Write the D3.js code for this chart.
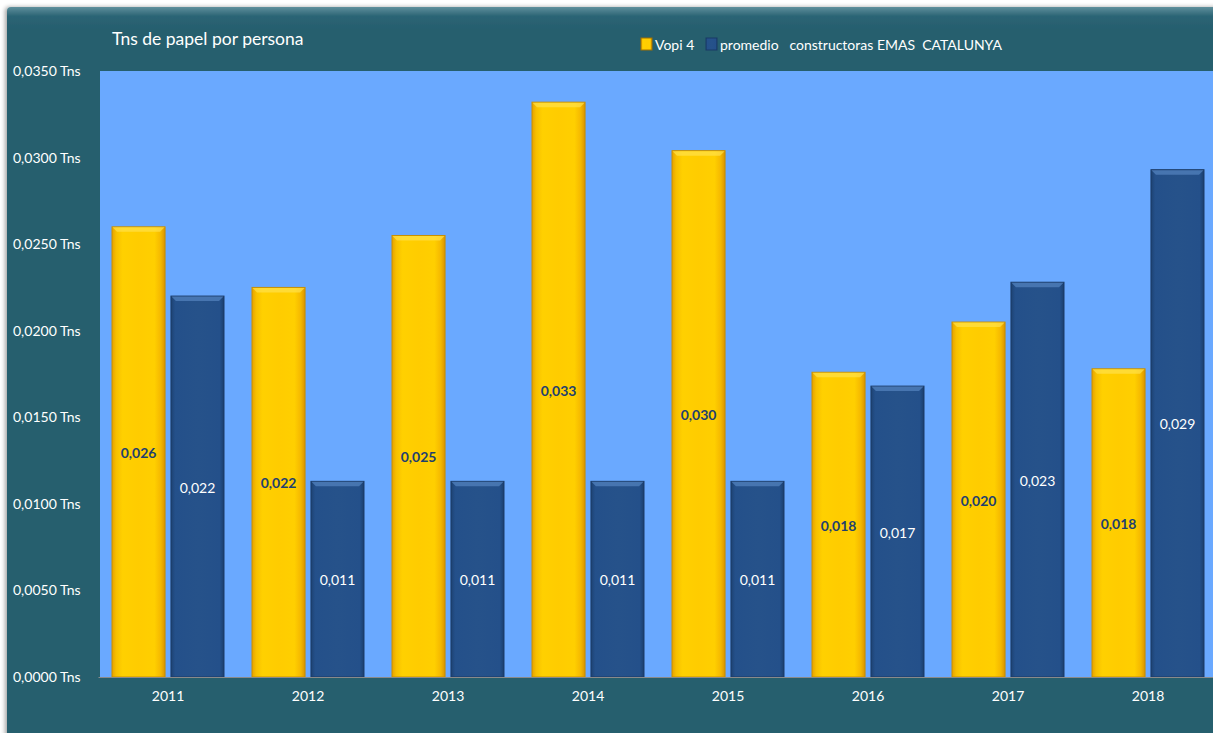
<!DOCTYPE html>
<html><head><meta charset="utf-8">
<script src="https://cdn.jsdelivr.net/npm/d3@7"></script>
<style>
html,body{margin:0;padding:0;background:#fff;overflow:hidden}
svg{display:block}
text{font-family:Lato,"Open Sans",sans-serif}
</style></head>
<body><svg id="c" width="1213" height="733"></svg>
<script>
const years = ["2011","2012","2013","2014","2015","2016","2017","2018"];
const vopi = [0.0260,0.0225,0.0255,0.0332,0.0304,0.0176,0.0205,0.0178];
const promedio = [0.0220,0.0113,0.0113,0.0113,0.0113,0.0168,0.0228,0.0293];
const vopiLabels = ["0,026","0,022","0,025","0,033","0,030","0,018","0,020","0,018"];
const promLabels = ["0,022","0,011","0,011","0,011","0,011","0,017","0,023","0,029"];
const yTicks = [0,0.005,0.01,0.015,0.02,0.025,0.03,0.035];
const yTickLabels = ["0,0000 Tns","0,0050 Tns","0,0100 Tns","0,0150 Tns","0,0200 Tns","0,0250 Tns","0,0300 Tns","0,0350 Tns"];
const seriesNames = ["Vopi 4","promedio   constructoras EMAS  CATALUNYA"];

const svg = d3.select("#c");
const defs = svg.append("defs");
const og = defs.append("linearGradient").attr("id","outer").attr("x1",0).attr("y1",0).attr("x2",0).attr("y2",1);
og.append("stop").attr("offset",0).attr("stop-color","#5f8f9c");
og.append("stop").attr("offset",0.012).attr("stop-color","#2b6575");
og.append("stop").attr("offset",0.03).attr("stop-color","#275e6e");
og.append("stop").attr("offset",1).attr("stop-color","#275e6e");
const yg = defs.append("linearGradient").attr("id","ygrad");
[[0,"#e6a200"],[0.08,"#f7c000"],[0.2,"#ffd000"],[0.5,"#ffcc00"],[0.8,"#ffcf00"],[0.92,"#f5b800"],[1,"#d99400"]].forEach(s=>yg.append("stop").attr("offset",s[0]).attr("stop-color",s[1]));
const bg = defs.append("linearGradient").attr("id","bgrad");
[[0,"#1d4272"],[0.08,"#24508a"],[0.5,"#26528a"],[0.92,"#24508a"],[1,"#1b3f6e"]].forEach(s=>bg.append("stop").attr("offset",s[0]).attr("stop-color",s[1]));
const sh = defs.append("filter").attr("id","shadow").attr("x","-5%").attr("y","-5%").attr("width","110%").attr("height","110%");
sh.append("feDropShadow").attr("dx",-2).attr("dy",0).attr("stdDeviation",2).attr("flood-color","#000").attr("flood-opacity",0.35);

svg.append("rect").attr("x",7).attr("y",7).attr("width",1230).attr("height",760).attr("rx",4)
  .attr("fill","url(#outer)").attr("filter","url(#shadow)");

const plot = {left:100, right:1213, top:71, bottom:677};
svg.append("rect").attr("x",plot.left).attr("y",plot.top).attr("width",plot.right-plot.left).attr("height",plot.bottom-plot.top).attr("fill","#6aa9ff");

const x = d3.scaleBand().domain(years).range([98,1218]).paddingInner(0).paddingOuter(0);
const y = d3.scaleLinear().domain([0,0.035]).range([plot.bottom,plot.top]);
const inner = d3.scaleBand().domain(["v","p"]).range([14,126]).paddingInner(0.1);

const g = svg.append("g");
function drawBars(vals, key, fill, topCol, edge){
  const grp = g.selectAll("g.b"+key).data(vals).enter().append("g").attr("class","b"+key)
    .attr("transform",(d,i)=>`translate(${x(years[i])+inner(key)},0)`);
  grp.append("rect").attr("x",0).attr("y",d=>y(d)).attr("width",inner.bandwidth()).attr("height",d=>y(0)-y(d))
    .attr("fill",fill).attr("stroke",edge).attr("stroke-width",1);
  grp.append("path").attr("d",d=>{const w=inner.bandwidth(),t=y(d);return `M0.5,${t+0.5}L${w-0.5},${t+0.5}L${w-5},${t+5}L5,${t+5}Z`;})
    .attr("fill",topCol).attr("opacity",0.7);
}
drawBars(vopi,"v","url(#ygrad)","#ffe14a","#c99000");
drawBars(promedio,"p","url(#bgrad)","#5584c0","#1b3b66");

g.selectAll("text.lv").data(vopi).enter().append("text")
  .attr("x",(d,i)=>x(years[i])+inner("v")+inner.bandwidth()/2)
  .attr("y",d=>(y(d)+y(0))/2+6).attr("text-anchor","middle")
  .attr("font-size",14).attr("font-weight","bold").attr("fill","#1f3f6e").text((d,i)=>vopiLabels[i]);
g.selectAll("text.lp").data(promedio).enter().append("text")
  .attr("x",(d,i)=>x(years[i])+inner("p")+inner.bandwidth()/2)
  .attr("y",d=>(y(d)+y(0))/2+6).attr("text-anchor","middle")
  .attr("font-size",14).attr("fill","#ffffff").text((d,i)=>promLabels[i]);

const xa = svg.append("g").attr("transform",`translate(0,${plot.bottom})`)
  .call(d3.axisBottom(x).tickSize(0).tickPadding(14));
xa.select(".domain").attr("stroke","#8a8a8a").attr("stroke-width",1.2);
xa.selectAll("text").attr("fill","#fff").attr("font-size",14).attr("font-family","Lato");

const ya = svg.append("g").attr("transform","translate(13,0)")
  .call(d3.axisLeft(y).tickValues(yTicks).tickSize(0).tickFormat((d,i)=>yTickLabels[i]));
ya.select(".domain").remove();
ya.selectAll("text").attr("fill","#fff").attr("font-size",14).attr("text-anchor","start").attr("x",0).attr("font-family","Lato");

svg.append("text").attr("x",112).attr("y",45).attr("fill","#fff").attr("font-size",17.5).text("Tns de papel por persona");

const leg = svg.append("g").attr("transform","translate(641,38)");
const lx = [0,65];
leg.selectAll("rect").data(seriesNames).enter().append("rect")
  .attr("x",(d,i)=>lx[i]).attr("y",0).attr("width",11).attr("height",12)
  .attr("fill",(d,i)=>i==0?"url(#ygrad)":"url(#bgrad)").attr("stroke",(d,i)=>i==0?"#a07000":"#183a66");
leg.selectAll("text").data(seriesNames).enter().append("text")
  .attr("x",(d,i)=>lx[i]+14).attr("y",11.5).attr("fill","#fff").attr("font-size",14)
  .style("white-space","pre").text(d=>d);
</script></body></html>
